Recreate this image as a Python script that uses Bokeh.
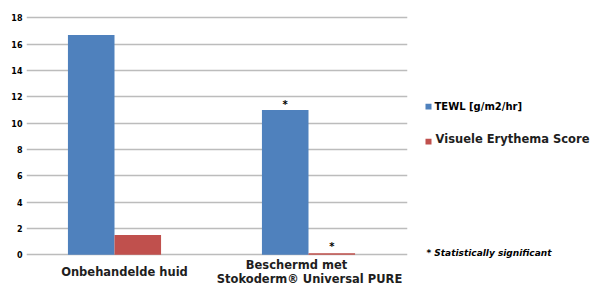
from bokeh.plotting import figure
from bokeh.models import Range1d, FixedTicker
from bokeh.layouts import row
from bokeh.core.properties import value
from bokeh.embed import file_html
from bokeh.resources import INLINE
import numpy as np

# ---- data ----
categories = ["Onbehandelde huid", "Beschermd met Stokoderm® Universal PURE"]
category_lines = [["Onbehandelde huid"], ["Beschermd met", "Stokoderm® Universal PURE"]]
series_names = ["TEWL [g/m2/hr]", "Visuele Erythema Score"]
tewl = [16.7, 11.0]
erythema = [1.5, 0.1]
tewl_significant = [False, True]
erythema_significant = [False, True]
y_ticks = [0, 2, 4, 6, 8, 10, 12, 14, 16, 18]
footnote = "* Statistically significant"

# ---- layout (pixels) ----
H = 286
MAIN_W = 410
SIDE_W = 185
FL, FR = 26, 407          # frame left / right
FT, FB = 8, 286           # frame top / bottom
PPU_X = 194.0
PPU_Y = 13.16
X0 = 0.5 - (114 - FL) / PPU_X
X1 = X0 + (FR - FL) / PPU_X
Y1 = 18 + (17.3 - FT) / PPU_Y
Y0 = Y1 - (FB - FT) / PPU_Y


def yd(py):
    return Y0 + (FB - py) / PPU_Y


BLUE = "#4F81BD"
RED = "#C0504D"
TXT = "#1e1e1e"
FONT = "DejaVu Sans"

p = figure(width=MAIN_W, height=H, x_range=Range1d(X0, X1), y_range=Range1d(Y0, Y1),
           output_backend="svg", toolbar_location=None,
           min_border_left=FL, min_border_right=MAIN_W - FR,
           min_border_top=FT, min_border_bottom=H - FB,
           x_axis_location=None, outline_line_color=None)

ax = p.yaxis[0]
ax.ticker = FixedTicker(ticks=y_ticks)
ax.axis_line_color = None
ax.major_tick_line_color = None
ax.minor_tick_line_color = None
ax.major_tick_in = 0
ax.major_tick_out = 0
ax.major_label_standoff = 4
ax.major_label_text_font = "DejaVu Sans"
ax.major_label_text_font_size = "8px"
ax.major_label_text_font_style = "bold"
ax.major_label_text_color = "black"

p.xgrid.visible = False
p.ygrid.ticker = FixedTicker(ticks=y_ticks)
p.ygrid.grid_line_color = "#bcbcbc"
p.ygrid.grid_line_width = 1.5

# bars
xpos = np.arange(len(categories)) + 0.5
bw = 0.24
p.vbar(x=xpos - bw / 2, top=tewl, bottom=0, width=bw, fill_color=BLUE, line_color=None)
p.vbar(x=xpos + bw / 2, top=erythema, bottom=0, width=bw, fill_color=RED, line_color=None)

# significance markers
sx, sy = [], []
for i, s in enumerate(tewl_significant):
    if s:
        sx.append(xpos[i] - bw / 2)
        sy.append(tewl[i])
for i, s in enumerate(erythema_significant):
    if s:
        sx.append(xpos[i] + bw / 2)
        sy.append(erythema[i])
p.text(x=sx, y=sy, text=["*"] * len(sx), text_align="center", text_baseline="bottom",
       text_font=value("DejaVu Sans"), text_font_size="10px", text_font_style="bold",
       text_color="black", y_offset=[0, -1][:len(sx)])

# category labels (below the zero line, inside the frame)
cat_dx = [[10], [-12, 1]]
cat_py = [[271], [264, 278]]
lx, ly, lt = [], [], []
for i, lines in enumerate(category_lines):
    for j, line in enumerate(lines):
        lx.append(xpos[i] + cat_dx[i][j] / PPU_X)
        ly.append(yd(cat_py[i][j]))
        lt.append(line)
p.text(x=lx, y=ly, text=lt, text_align="center", text_baseline="middle",
       text_font=value(FONT), text_font_size="11.5px", text_font_style="bold",
       text_color=TXT)

# ---- side panel: legend + footnote ----
s = figure(width=SIDE_W, height=H, x_range=Range1d(MAIN_W, MAIN_W + SIDE_W),
           y_range=Range1d(H, 0), output_backend="svg", toolbar_location=None,
           min_border=0, min_border_left=0, min_border_right=0, min_border_top=0,
           min_border_bottom=0, x_axis_location=None, y_axis_location=None,
           outline_line_color=None)
s.xgrid.visible = False
s.ygrid.visible = False

leg_sq_y = [101, 137]
leg_txt_y = [101, 134]
leg_txt_x = [434, 435]
s.rect(x=[428, 428], y=leg_sq_y, width=6, height=6, fill_color=[BLUE, RED], line_color=None)
s.text(x=[leg_txt_x[0]], y=[leg_txt_y[0]], text=[series_names[0]], text_align="left",
       text_baseline="middle", text_font=value("DejaVu Sans"), text_font_size="10px",
       text_font_style="bold", text_color="black")
s.text(x=[leg_txt_x[1]], y=[leg_txt_y[1]], text=[series_names[1]], text_align="left",
       text_baseline="middle", text_font=value(FONT), text_font_size="11.5px",
       text_font_style="bold", text_color=TXT)
s.text(x=[426], y=[252], text=[footnote], text_align="left", text_baseline="middle",
       text_font=value("DejaVu Sans"), text_font_size="9px", text_font_style="bold italic",
       text_color="black")

layout = row(p, s, spacing=0)
open("out.html", "w").write(file_html(layout, INLINE))
